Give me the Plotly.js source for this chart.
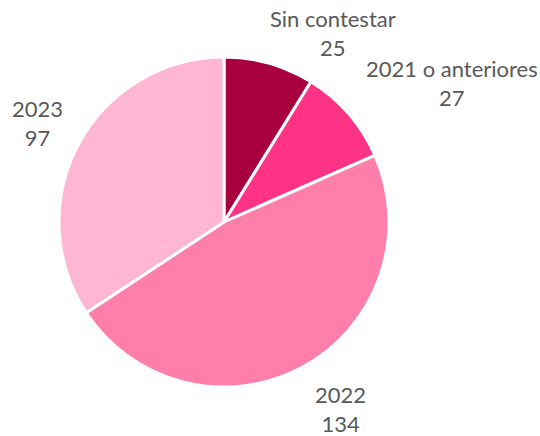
<!DOCTYPE html>
<html>
<head>
<meta charset="utf-8">
<script src="https://cdn.plot.ly/plotly-3.0.1.min.js"></script>
<style>html,body{margin:0;padding:0;background:#fff;}#chart{width:540px;height:436px;}</style>
</head>
<body>
<div id="chart"></div>
<script>
const categories = ["Sin contestar", "2021 o anteriores", "2022", "2023"];
const values = [25, 27, 134, 97];
const colors = ["#A8003F", "#FF3385", "#FF7FAA", "#FFB6D3"];
// label anchor positions (pixels) for the outside labels
const labelPos = [[333, 33], [452, 83], [340, 409], [37, 123]];

const W = 540, H = 436;
const annotations = categories.map((c, i) => ({
  text: c + "<br>" + values[i],
  x: labelPos[i][0] / W,
  y: 1 - labelPos[i][1] / H,
  xref: "paper", yref: "paper",
  xanchor: "center", yanchor: "middle",
  align: "center",
  showarrow: false,
  font: {family: "Lato, 'Liberation Sans', sans-serif", size: 22, color: "#595959"}
}));

const cx = 224, cy = 222, r = 165;
Plotly.newPlot("chart", [{
  type: "pie",
  labels: categories,
  values: values,
  sort: false,
  direction: "clockwise",
  rotation: 0,
  marker: {colors: colors, line: {color: "#ffffff", width: 3}},
  textinfo: "none",
  hoverinfo: "label+value",
  domain: {x: [(cx - r) / W, (cx + r) / W], y: [(H - cy - r) / H, (H - cy + r) / H]}
}], {
  width: W, height: H,
  margin: {l: 0, r: 0, t: 0, b: 0},
  showlegend: false,
  paper_bgcolor: "#ffffff",
  annotations: annotations
}, {displayModeBar: false, staticPlot: true});
</script>
</body>
</html>
